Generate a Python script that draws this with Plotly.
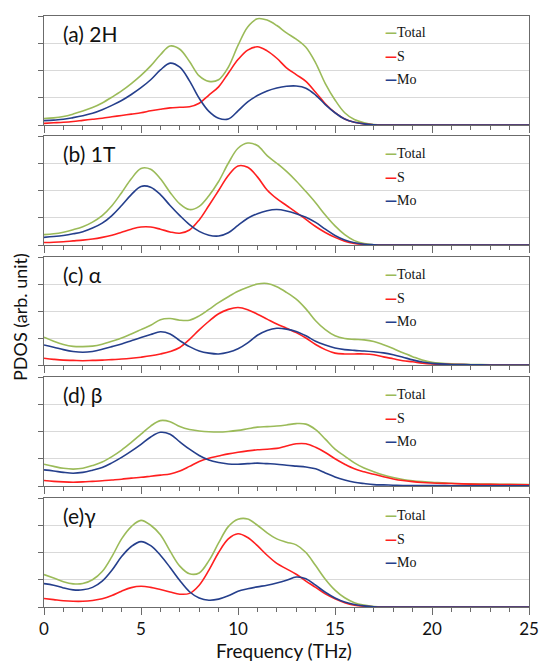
import plotly.graph_objects as go

# ---------------- data ----------------
FREQ = [0, 0.5, 1, 1.5, 2, 2.5, 3, 3.5, 4, 4.5, 5, 5.5, 6, 6.5, 7, 7.5, 8, 8.5, 9, 9.5,
        10, 10.5, 11, 11.5, 12, 12.5, 13, 13.5, 14, 14.5, 15, 15.5, 16, 16.5, 17, 17.5,
        18, 18.5, 19, 19.5, 20, 21, 22, 23, 24, 25]

PANEL_LABELS = ["(a) 2H", "(b) 1T", "(c) α", "(d) β", "(e)γ"]
SERIES_NAMES = ["Total", "S", "Mo"]
X_TICKS = [0, 5, 10, 15, 20, 25]

# (a) 2H
A_TOTAL = [0.24, 0.26, 0.31, 0.40, 0.51, 0.64, 0.81, 1.02, 1.25, 1.52, 1.82, 2.17, 2.58, 2.90, 2.78, 2.33,
           1.80, 1.60, 1.66, 2.12, 2.92, 3.60, 3.90, 3.85, 3.65, 3.38, 3.15, 2.85, 2.28, 1.52, 0.92, 0.45,
           0.20, 0.08, 0.02, 0, 0, 0, 0, 0, 0, 0, 0, 0, 0, 0]
A_S = [0.06, 0.08, 0.10, 0.13, 0.17, 0.21, 0.25, 0.30, 0.35, 0.40, 0.45, 0.52, 0.58, 0.63, 0.65, 0.67,
       0.80, 1.10, 1.40, 1.90, 2.40, 2.75, 2.87, 2.72, 2.45, 2.10, 1.85, 1.60, 1.20, 0.78, 0.45, 0.22,
       0.10, 0.04, 0.01, 0, 0, 0, 0, 0, 0, 0, 0, 0, 0, 0]
A_MO = [0.16, 0.18, 0.21, 0.27, 0.34, 0.43, 0.56, 0.72, 0.90, 1.12, 1.37, 1.66, 2.02, 2.27, 2.12, 1.62,
        0.98, 0.50, 0.25, 0.22, 0.52, 0.85, 1.08, 1.25, 1.36, 1.42, 1.43, 1.35, 1.10, 0.75, 0.45, 0.22,
        0.10, 0.04, 0.01, 0, 0, 0, 0, 0, 0, 0, 0, 0, 0, 0]

# (b) 1T
B_TOTAL = [0.38, 0.41, 0.47, 0.56, 0.67, 0.84, 1.08, 1.44, 1.92, 2.43, 2.81, 2.78, 2.43, 1.93, 1.51, 1.30,
           1.42, 1.81, 2.33, 3.00, 3.55, 3.74, 3.65, 3.28, 3.00, 2.70, 2.35, 1.96, 1.55, 1.10, 0.70, 0.38,
           0.16, 0.05, 0.01, 0, 0, 0, 0, 0, 0, 0, 0, 0, 0, 0]
B_S = [0.09, 0.10, 0.12, 0.15, 0.18, 0.22, 0.28, 0.36, 0.47, 0.58, 0.66, 0.66, 0.58, 0.48, 0.43, 0.55,
       0.92, 1.45, 2.00, 2.55, 2.90, 2.85, 2.50, 2.02, 1.70, 1.45, 1.20, 0.94, 0.68, 0.46, 0.28, 0.14,
       0.06, 0.02, 0, 0, 0, 0, 0, 0, 0, 0, 0, 0, 0, 0]
B_MO = [0.28, 0.31, 0.35, 0.41, 0.49, 0.62, 0.80, 1.08, 1.45, 1.85, 2.15, 2.12, 1.85, 1.45, 1.08, 0.75,
        0.50, 0.36, 0.33, 0.45, 0.72, 0.98, 1.15, 1.26, 1.30, 1.25, 1.15, 1.02, 0.83, 0.58, 0.35, 0.18,
        0.08, 0.03, 0.01, 0, 0, 0, 0, 0, 0, 0, 0, 0, 0, 0]

# (c) alpha
C_TOTAL = [1.03, 0.88, 0.76, 0.69, 0.68, 0.70, 0.77, 0.88, 1.00, 1.15, 1.31, 1.47, 1.68, 1.72, 1.66, 1.66,
           1.82, 2.06, 2.31, 2.53, 2.73, 2.88, 3.00, 3.02, 2.90, 2.69, 2.44, 2.08, 1.64, 1.31, 1.08, 0.98,
           0.95, 0.93, 0.87, 0.75, 0.61, 0.45, 0.31, 0.18, 0.10, 0.04, 0.02, 0.01, 0, 0]
C_S = [0.25, 0.21, 0.18, 0.17, 0.16, 0.17, 0.18, 0.20, 0.22, 0.25, 0.29, 0.34, 0.41, 0.50, 0.65, 0.95,
       1.30, 1.62, 1.90, 2.06, 2.13, 2.05, 1.88, 1.70, 1.52, 1.36, 1.20, 1.00, 0.76, 0.57, 0.44, 0.41,
       0.41, 0.41, 0.38, 0.30, 0.23, 0.16, 0.12, 0.07, 0.04, 0.02, 0.01, 0, 0, 0]
C_MO = [0.74, 0.66, 0.57, 0.50, 0.47, 0.50, 0.58, 0.68, 0.78, 0.90, 1.02, 1.13, 1.23, 1.15, 0.90, 0.68,
        0.52, 0.44, 0.41, 0.47, 0.60, 0.82, 1.10, 1.28, 1.36, 1.33, 1.24, 1.08, 0.88, 0.74, 0.63, 0.57,
        0.54, 0.52, 0.49, 0.45, 0.38, 0.29, 0.19, 0.11, 0.06, 0.02, 0.01, 0, 0, 0]

# (d) beta
D_TOTAL = [0.80, 0.72, 0.65, 0.62, 0.65, 0.75, 0.88, 1.08, 1.32, 1.60, 1.90, 2.20, 2.40, 2.36, 2.18, 2.07,
           2.02, 1.99, 1.98, 2.00, 2.04, 2.10, 2.16, 2.18, 2.20, 2.24, 2.29, 2.27, 2.07, 1.72, 1.35, 1.10,
           0.85, 0.66, 0.52, 0.40, 0.31, 0.24, 0.19, 0.16, 0.14, 0.10, 0.08, 0.07, 0.06, 0.05]
D_S = [0.20, 0.17, 0.15, 0.14, 0.15, 0.17, 0.19, 0.22, 0.25, 0.29, 0.32, 0.36, 0.40, 0.44, 0.55, 0.72,
       0.90, 1.02, 1.10, 1.18, 1.24, 1.29, 1.33, 1.35, 1.38, 1.47, 1.55, 1.55, 1.42, 1.23, 1.00, 0.80,
       0.63, 0.52, 0.43, 0.34, 0.26, 0.20, 0.16, 0.13, 0.11, 0.09, 0.07, 0.06, 0.05, 0.04]
D_MO = [0.59, 0.55, 0.50, 0.47, 0.50, 0.58, 0.68, 0.85, 1.05, 1.28, 1.53, 1.80, 1.97, 1.90, 1.62, 1.35,
        1.12, 0.95, 0.86, 0.81, 0.80, 0.82, 0.84, 0.82, 0.80, 0.76, 0.73, 0.70, 0.63, 0.48, 0.33, 0.22,
        0.14, 0.09, 0.05, 0.04, 0.03, 0.02, 0.02, 0.02, 0.02, 0.01, 0.01, 0.01, 0.01, 0.01]

# (e) gamma
E_TOTAL = [1.19, 1.06, 0.93, 0.85, 0.86, 1.00, 1.30, 1.85, 2.50, 2.95, 3.18, 3.00, 2.65, 2.05, 1.50, 1.22,
           1.25, 1.70, 2.35, 2.95, 3.22, 3.23, 3.00, 2.72, 2.50, 2.38, 2.28, 2.00, 1.52, 1.02, 0.62, 0.34,
           0.16, 0.07, 0.02, 0, 0, 0, 0, 0, 0, 0, 0, 0, 0, 0]
E_S = [0.31, 0.27, 0.23, 0.21, 0.21, 0.24, 0.30, 0.42, 0.58, 0.71, 0.76, 0.72, 0.64, 0.55, 0.47, 0.50,
       0.80, 1.35, 2.00, 2.50, 2.69, 2.55, 2.25, 1.90, 1.60, 1.40, 1.20, 0.95, 0.72, 0.48, 0.30, 0.16,
       0.07, 0.03, 0.01, 0, 0, 0, 0, 0, 0, 0, 0, 0, 0, 0]
E_MO = [0.86, 0.80, 0.70, 0.63, 0.63, 0.72, 0.95, 1.35, 1.85, 2.22, 2.40, 2.25, 1.90, 1.45, 0.97, 0.56,
        0.33, 0.25, 0.29, 0.41, 0.58, 0.67, 0.74, 0.80, 0.88, 0.98, 1.10, 1.04, 0.80, 0.54, 0.33, 0.18,
        0.09, 0.04, 0.01, 0, 0, 0, 0, 0, 0, 0, 0, 0, 0, 0]

PANELS = [
    (A_TOTAL, A_S, A_MO),
    (B_TOTAL, B_S, B_MO),
    (C_TOTAL, C_S, C_MO),
    (D_TOTAL, D_S, D_MO),
    (E_TOTAL, E_S, E_MO),
]

# ---------------- style ----------------
COLORS = ["#9bbb59", "#ff1f1f", "#253f8c"]
W, H = 541, 662
ML, MR, MT, MB = 44, 12, 16, 55
PH = H - MT - MB
PANEL_PX = [(16, 125), (136, 245), (257, 365), (377, 486), (498, 607)]  # top, bottom in px
SANS = "Lato, 'Open Sans', sans-serif"
SERIF = "'Liberation Serif', 'Times New Roman', serif"
AXIS_COL = "#6b6b6b"

fig = go.Figure()
annotations = []
layout = {}

for i, (series, label, (top, bot)) in enumerate(zip(PANELS, PANEL_LABELS, PANEL_PX)):
    n = i + 1
    xs = "x" if n == 1 else f"x{n}"
    ys = "y" if n == 1 else f"y{n}"
    for vals, name, col in zip(series, SERIES_NAMES, COLORS):
        fig.add_trace(go.Scatter(
            x=FREQ, y=vals, mode="lines", name=name, showlegend=False,
            line=dict(color=col, width=1.6, shape="spline", smoothing=1.0),
            xaxis=xs, yaxis=ys, hoverinfo="skip"))
    dom = [(H - MB - bot) / PH, (H - MB - top) / PH]
    last = n == 5
    layout["xaxis" if n == 1 else f"xaxis{n}"] = dict(
        domain=[0, 1], anchor=ys, range=[0, 25], tickvals=X_TICKS,
        ticks="outside", ticklen=7, tickwidth=1, tickcolor=AXIS_COL,
        minor=dict(dtick=1, ticks="outside", ticklen=4, tickcolor=AXIS_COL, showgrid=False),
        showgrid=False, zeroline=False, showline=True, mirror=True,
        linecolor=AXIS_COL, linewidth=1,
        showticklabels=last, tickfont=dict(family=SANS, size=17, color="#111"),
    )
    layout["yaxis" if n == 1 else f"yaxis{n}"] = dict(
        domain=dom, anchor=xs, range=[0, 4], dtick=1,
        ticks="outside", ticklen=5, tickcolor=AXIS_COL, showticklabels=False,
        showgrid=True, gridcolor="#d9d9d9", gridwidth=1, zeroline=False,
        showline=True, mirror=True, linecolor=AXIS_COL, linewidth=1,
    )
    ph = bot - top
    annotations.append(dict(
        xref=f"{xs} domain", yref=f"{ys} domain", x=17 / 485, y=1 - 17.5 / ph,
        xanchor="left", yanchor="middle", showarrow=False, text=label,
        font=dict(family=SANS, size=21, color="#111")))
    for name, col, off in zip(SERIES_NAMES, COLORS, [17, 41, 64]):
        annotations.append(dict(
            xref=f"{xs} domain", yref=f"{ys} domain", x=(383 - ML) / 485, y=1 - off / ph,
            xanchor="left", yanchor="middle", showarrow=False,
            text=(f"<span style='color:{col};font-family:DejaVu Sans;font-weight:bold;"
                  f"font-size:12px'>—</span>{name}"),
            font=dict(family=SERIF, size=14, color="#111")))

annotations.append(dict(
    xref="paper", yref="paper", x=(20 - ML) / 485, y=(H - MB - 317) / PH,
    xanchor="center", yanchor="middle", showarrow=False, textangle=-90,
    text="PDOS (arb. unit)", font=dict(family=SANS, size=18, color="#111")))
annotations.append(dict(
    xref="paper", yref="paper", x=(284 - ML) / 485, y=(H - MB - 650) / PH,
    xanchor="center", yanchor="middle", showarrow=False,
    text="Frequency (THz)", font=dict(family=SANS, size=19, color="#111")))

fig.update_layout(
    width=W, height=H, margin=dict(l=ML, r=MR, t=MT, b=MB, autoexpand=False),
    paper_bgcolor="white", plot_bgcolor="white", annotations=annotations,
    **layout)

fig.write_html("out.html", config={"displayModeBar": False},
               post_script="document.body.style.margin='0';document.body.style.overflow='hidden';")
